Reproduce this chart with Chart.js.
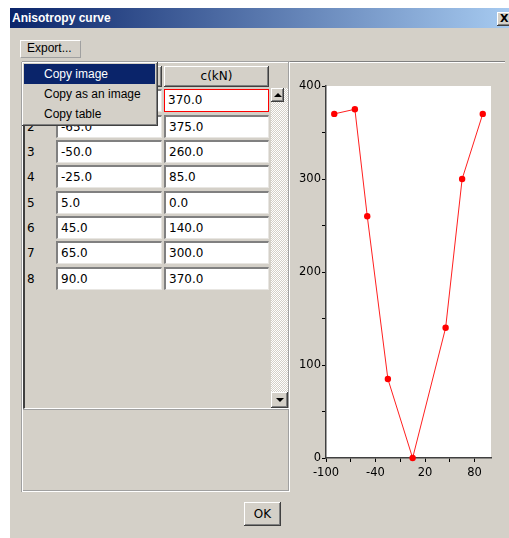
<!DOCTYPE html>
<html><head><meta charset="utf-8">
<script src="https://cdn.jsdelivr.net/npm/chart.js@4.4.1/dist/chart.umd.min.js"></script>
<style>
body{margin:0;width:509px;height:538px;background:#fff;overflow:hidden;position:relative;font-family:"Liberation Sans",Arial,sans-serif;}
.a{position:absolute;box-sizing:border-box;}
#win{left:10px;top:8px;width:499px;height:530px;background:#d4d0c8;}
#title{left:10px;top:8px;width:499px;height:20px;background:linear-gradient(to right,#0a246a,#a6caf0);color:#fff;font-weight:bold;font-size:12px;line-height:20px;padding-left:2px;}
#close{left:497px;top:12px;width:16px;height:14px;background:#d4d0c8;box-shadow:inset -1px -1px #404040,inset 1px 1px #fff,inset -2px -2px #808080;font:bold 11px "DejaVu Sans",sans-serif;color:#000;line-height:14px;padding-left:3px;}
.raised{background:#d4d0c8;box-shadow:inset -1px -1px #404040,inset 1px 1px #fff,inset -2px -2px #808080;}
#export{left:20px;top:40px;width:61px;height:18px;border:1px solid #fff;border-right-color:#a0a0a0;border-bottom-color:#a0a0a0;font-size:12px;line-height:15px;padding-left:6px;color:#000;}
#sep{left:22px;top:61px;width:483px;height:2px;border-top:1px solid #808080;border-bottom:1px solid #fff;}
#lpanel{left:22px;top:62px;width:268px;height:430px;border-left:1px solid #fff;border-bottom:1px solid #fff;border-right:1px solid #fff;box-shadow:-1px 0 0 #a0a0a0,0 -1px 0 #a0a0a0,inset -1px -1px 0 #a0a0a0;}
#tarea{left:23px;top:62px;width:266px;height:347px;border-left:2px solid #404040;border-bottom:1px solid #fff;box-shadow:0 1px 0 #a0a0a0;}
.hdr{height:21px;font:12px "DejaVu Sans",sans-serif;color:#000;text-align:center;line-height:21px;}
.cell{background:#fff;height:23px;font:12px "DejaVu Sans",sans-serif;color:#000;line-height:20px;padding-left:3px;border-top:2px solid #808080;border-left:2px solid #808080;border-right:1px solid #e8e6e2;border-bottom:1px solid #e8e6e2;}
.sel{border:1px solid #ff0000;line-height:21px;}
.rn{font:12px "DejaVu Sans",sans-serif;color:#000;line-height:23px;}
#track{left:271px;top:88px;width:17px;height:320px;background:repeating-conic-gradient(#ffffff 0 25%,#d4d0c8 0 50%) 0 0/2px 2px;}
.arrow{width:0;height:0;border-left:4px solid transparent;border-right:4px solid transparent;}
#menu{left:22px;top:62px;width:136px;height:64px;background:#d4d0c8;box-shadow:inset -1px -1px #404040,inset 1px 1px #fff,inset -2px -2px #808080;}
.mi{left:24px;width:131px;height:20px;font-size:12px;line-height:20px;padding-left:20px;color:#000;}
#ok{left:244px;top:502px;width:37px;height:24px;font:12px "DejaVu Sans",sans-serif;color:#000;text-align:center;line-height:24px;}
#chartwrap{left:290px;top:70px;width:215px;height:420px;}
</style></head>
<body>
<div id="win" class="a"></div>
<div id="title" class="a">Anisotropy curve</div>
<div id="close" class="a">X</div>
<div id="export" class="a">Export...</div>
<div id="sep" class="a"></div>
<div id="lpanel" class="a"></div>
<div id="tarea" class="a"></div>
<div id="rows"></div>
<div id="track" class="a"></div>
<div class="a raised" style="left:271px;top:88px;width:13px;height:14px;"></div>
<div class="a arrow" style="left:274px;top:93px;border-bottom:4px solid #000;"></div>
<div class="a raised" style="left:271px;top:392px;width:17px;height:16px;"></div>
<div class="a arrow" style="left:276px;top:398px;border-top:4px solid #000;"></div>
<div id="menu" class="a"></div>
<div class="a mi" style="top:64px;background:#0a246a;color:#fff;">Copy image</div>
<div class="a mi" style="top:84px;">Copy as an image</div>
<div class="a mi" style="top:104px;">Copy table</div>
<div id="ok" class="a raised">OK</div>
<div id="chartwrap" class="a"><canvas id="c" width="215" height="420"></canvas></div>
<script>
const rowNumbers = ["1","2","3","4","5","6","7","8"];
const angles = [-90, -65, -50, -25, 5, 45, 65, 90];
const cValues = [370, 375, 260, 85, 0, 140, 300, 370];
const headers = ["", "c(kN)"];
const xTicks = [-100, -70, -40, -10, 20, 50, 80];
const xTickLabels = ["-100", "", "-40", "", "20", "", "80"];
const yTicks = [0, 50, 100, 150, 200, 250, 300, 350, 400];
const yTickLabels = ["0", "", "100", "", "200", "", "300", "", "400"];

// table
const rows = document.getElementById('rows');
let html = '';
html += '<div class="a hdr raised" style="left:55px;top:66px;width:107px;">' + headers[0] + '</div>';
html += '<div class="a hdr raised" style="left:164px;top:66px;width:105px;">' + headers[1] + '</div>';
for (let i = 0; i < angles.length; i++) {
  const top = 89.4 + i * 25.33;
  html += '<div class="a rn" style="left:27px;top:' + (top + 1) + 'px;">' + rowNumbers[i] + '</div>';
  html += '<div class="a cell" style="left:56px;top:' + top + 'px;width:106px;">' + angles[i].toFixed(1) + '</div>';
  html += '<div class="a cell' + (i === 0 ? ' sel' : '') + '" style="left:164px;top:' + top + 'px;width:105px;">' + cValues[i].toFixed(1) + '</div>';
}
rows.innerHTML = html;

// chart
const whiteBg = {
  id: 'whiteBg',
  beforeDraw(chart) {
    const {ctx, chartArea: a} = chart;
    ctx.save();
    ctx.fillStyle = '#ffffff';
    ctx.fillRect(a.left, a.top, a.right - a.left, a.bottom - a.top);
    ctx.restore();
  }
};
new Chart(document.getElementById('c'), {
  type: 'line',
  data: {
    datasets: [{
      data: angles.map((a, i) => ({x: a, y: cValues[i]})),
      borderColor: '#ff2020',
      borderWidth: 1,
      pointRadius: 3.2,
      pointBackgroundColor: '#ff0000',
      pointBorderWidth: 0,
      tension: 0,
      clip: false
    }]
  },
  options: {
    responsive: false,
    animation: false,
    layout: {padding: {top: 16, right: 14, left: 0, bottom: 0}},
    plugins: {legend: {display: false}, tooltip: {enabled: false}},
    scales: {
      x: {
        type: 'linear', min: -100, max: 100,
        afterBuildTicks(s) { s.ticks = xTicks.map(v => ({value: v})); },
        afterFit(s) { s.height = 32; },
        ticks: {
          callback: (v, i) => xTickLabels[i],
          color: '#000', font: {family: 'DejaVu Sans', size: 11.5},
          padding: 4, maxRotation: 0, autoSkip: false
        },
        grid: {drawOnChartArea: false, tickLength: 4, color: '#000'},
        border: {color: '#404040', width: 1.5}
      },
      y: {
        type: 'linear', min: 0, max: 400,
        afterBuildTicks(s) { s.ticks = yTicks.map(v => ({value: v})); },
        afterFit(s) { s.width = 36; },
        ticks: {
          callback: (v, i) => yTickLabels[i],
          color: '#000', font: {family: 'DejaVu Sans', size: 11.5},
          padding: 1, autoSkip: false
        },
        grid: {drawOnChartArea: false, tickLength: 4, color: '#000'},
        border: {color: '#404040', width: 1.5}
      }
    }
  },
  plugins: [whiteBg]
});
</script>
</body></html>
